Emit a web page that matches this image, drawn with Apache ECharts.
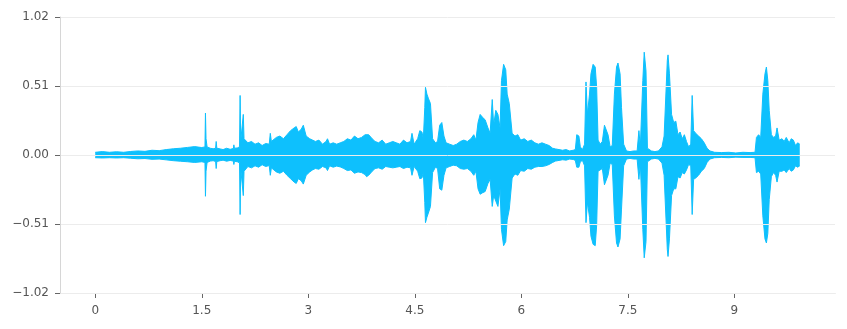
<!DOCTYPE html>
<html>
<head>
<meta charset="utf-8">
<script src="https://cdn.jsdelivr.net/npm/echarts@6/dist/echarts.min.js"></script>
<style>
html,body{margin:0;padding:0;background:#fff;}
#chart{width:847px;height:329px;}
</style>
</head>
<body>
<div id="chart"></div>
<script>
// Time (s) of each envelope sample
const times = [
0.00,0.10,0.20,0.30,0.40,0.50,0.60,0.70,0.80,0.90,1.00,1.10,1.20,1.30,1.40,1.50,
1.545,1.552,1.56,1.575,1.62,1.66,1.695,1.703,1.712,1.76,1.80,1.85,1.90,1.945,1.952,1.96,
2.00,2.032,2.040,2.048,2.075,2.085,2.095,2.15,2.20,2.25,2.30,2.35,2.40,2.45,2.465,2.48,
2.55,2.60,2.65,2.70,2.75,2.80,2.83,2.86,2.90,2.93,2.97,3.02,3.06,3.10,3.15,3.20,
3.25,3.27,3.30,3.35,3.40,3.45,3.50,3.55,3.60,3.65,3.70,3.75,3.80,3.82,3.85,3.90,
3.94,3.99,4.04,4.09,4.14,4.19,4.24,4.29,4.34,4.39,4.44,4.46,4.49,4.54,4.57,4.60,
4.62,4.64,4.65,4.67,4.69,4.72,4.75,4.79,4.82,4.85,4.88,4.91,4.94,4.99,5.04,5.09,
5.14,5.19,5.24,5.29,5.33,5.36,5.39,5.42,5.45,5.49,5.53,5.56,5.59,5.61,5.64,5.67,
5.70,5.72,5.75,5.78,5.80,5.83,5.87,5.91,5.95,5.99,6.04,6.09,6.14,6.19,6.24,6.29,
6.34,6.39,6.44,6.48,6.53,6.58,6.63,6.68,6.73,6.76,6.78,6.81,6.83,6.86,6.89,6.91,
6.93,6.96,6.98,7.01,7.04,7.06,7.08,7.11,7.14,7.17,7.19,7.22,7.25,7.28,7.31,7.34,
7.36,7.39,7.41,7.44,7.48,7.53,7.58,7.63,7.655,7.675,7.71,7.73,7.755,7.775,7.83,7.88,
7.93,7.98,8.01,8.035,8.055,8.065,8.085,8.115,8.145,8.175,8.205,8.235,8.265,8.295,8.325,8.355,
8.385,8.405,8.425,8.455,8.495,8.535,8.575,8.615,8.655,8.72,8.82,8.92,9.02,9.12,9.22,9.29,
9.31,9.34,9.37,9.40,9.43,9.45,9.47,9.49,9.52,9.55,9.58,9.60,9.63,9.67,9.70,9.73,
9.77,9.80,9.83,9.86,9.89,9.92
];
// Positive peak amplitude at each sample
const upper = [
0.020,0.025,0.020,0.024,0.020,0.026,0.030,0.027,0.035,0.032,0.040,0.046,0.050,0.056,0.062,0.055,
0.060,0.310,0.120,0.060,0.050,0.046,0.050,0.100,0.050,0.045,0.040,0.050,0.042,0.048,0.075,0.050,
0.052,0.060,0.440,0.100,0.100,0.300,0.120,0.090,0.100,0.080,0.090,0.070,0.085,0.080,0.160,0.100,
0.130,0.140,0.120,0.150,0.180,0.200,0.210,0.170,0.190,0.220,0.140,0.120,0.110,0.100,0.110,0.080,
0.100,0.120,0.080,0.090,0.080,0.090,0.100,0.120,0.110,0.140,0.120,0.130,0.150,0.160,0.150,0.120,
0.100,0.090,0.110,0.080,0.090,0.100,0.090,0.080,0.110,0.090,0.100,0.160,0.080,0.120,0.180,0.170,
0.120,0.350,0.500,0.450,0.420,0.380,0.120,0.090,0.100,0.220,0.240,0.140,0.090,0.080,0.070,0.080,
0.100,0.110,0.100,0.120,0.150,0.110,0.240,0.300,0.280,0.260,0.200,0.160,0.410,0.220,0.330,0.300,
0.200,0.550,0.670,0.630,0.450,0.380,0.160,0.140,0.150,0.110,0.120,0.100,0.110,0.090,0.080,0.090,
0.080,0.070,0.050,0.045,0.040,0.035,0.040,0.030,0.035,0.040,0.150,0.140,0.060,0.040,0.080,0.540,
0.300,0.450,0.600,0.670,0.650,0.500,0.110,0.080,0.100,0.220,0.230,0.150,0.060,0.070,0.450,0.650,
0.680,0.600,0.350,0.080,0.030,0.025,0.030,0.030,0.180,0.060,0.550,0.760,0.620,0.050,0.030,0.025,
0.030,0.060,0.140,0.150,0.700,0.740,0.600,0.300,0.240,0.250,0.150,0.170,0.120,0.150,0.100,0.060,
0.080,0.440,0.180,0.160,0.140,0.120,0.090,0.050,0.030,0.020,0.018,0.020,0.015,0.020,0.018,0.020,
0.130,0.150,0.130,0.450,0.600,0.650,0.550,0.330,0.150,0.130,0.140,0.200,0.110,0.120,0.100,0.130,
0.090,0.120,0.110,0.070,0.090,0.080
];
// Negative peak amplitude at each sample
const lower = [
-0.020,-0.022,-0.020,-0.022,-0.020,-0.024,-0.028,-0.026,-0.032,-0.030,-0.036,-0.042,-0.046,-0.050,-0.055,-0.050,
-0.055,-0.305,-0.120,-0.055,-0.045,-0.042,-0.048,-0.100,-0.048,-0.042,-0.038,-0.046,-0.040,-0.045,-0.070,-0.046,
-0.050,-0.058,-0.440,-0.100,-0.100,-0.300,-0.120,-0.085,-0.095,-0.080,-0.090,-0.072,-0.085,-0.078,-0.150,-0.095,
-0.125,-0.135,-0.120,-0.150,-0.175,-0.200,-0.210,-0.175,-0.190,-0.215,-0.150,-0.125,-0.110,-0.100,-0.105,-0.085,
-0.095,-0.115,-0.080,-0.090,-0.082,-0.088,-0.100,-0.115,-0.110,-0.135,-0.125,-0.130,-0.145,-0.160,-0.150,-0.120,
-0.100,-0.095,-0.105,-0.085,-0.090,-0.095,-0.090,-0.085,-0.100,-0.090,-0.095,-0.150,-0.085,-0.120,-0.175,-0.170,
-0.130,-0.350,-0.500,-0.460,-0.430,-0.380,-0.130,-0.090,-0.100,-0.250,-0.260,-0.150,-0.095,-0.085,-0.075,-0.080,
-0.100,-0.105,-0.100,-0.120,-0.150,-0.120,-0.250,-0.290,-0.280,-0.270,-0.210,-0.180,-0.380,-0.300,-0.340,-0.380,
-0.250,-0.550,-0.670,-0.640,-0.480,-0.400,-0.170,-0.140,-0.150,-0.115,-0.120,-0.100,-0.105,-0.090,-0.085,-0.085,
-0.080,-0.070,-0.055,-0.045,-0.040,-0.035,-0.038,-0.030,-0.033,-0.040,-0.090,-0.090,-0.050,-0.040,-0.080,-0.500,
-0.350,-0.460,-0.600,-0.660,-0.670,-0.520,-0.120,-0.110,-0.100,-0.220,-0.230,-0.150,-0.060,-0.070,-0.450,-0.650,
-0.680,-0.620,-0.400,-0.080,-0.030,-0.025,-0.030,-0.030,-0.180,-0.060,-0.550,-0.760,-0.640,-0.050,-0.030,-0.025,
-0.030,-0.060,-0.150,-0.160,-0.700,-0.750,-0.620,-0.300,-0.250,-0.250,-0.160,-0.170,-0.130,-0.140,-0.110,-0.070,
-0.080,-0.440,-0.180,-0.170,-0.150,-0.120,-0.100,-0.055,-0.030,-0.020,-0.018,-0.020,-0.016,-0.018,-0.018,-0.020,
-0.130,-0.120,-0.140,-0.450,-0.620,-0.650,-0.580,-0.330,-0.160,-0.130,-0.150,-0.200,-0.120,-0.120,-0.110,-0.130,
-0.100,-0.120,-0.110,-0.080,-0.090,-0.080
];
const xTickValues = [0, 1.5, 3, 4.5, 6, 7.5, 9];
const yTickValues = [-1.02, -0.51, 0, 0.51, 1.02];

const waveColor = '#0ec0fd';
const upperData = times.map((t, i) => [t, upper[i]]);
const lowerData = times.map((t, i) => [t, lower[i]]);

const chart = echarts.init(document.getElementById('chart'), null, {renderer: 'canvas'});
const labelFont = {fontFamily: 'DejaVu Sans', fontSize: 12, color: '#555'};
chart.setOption({
  animation: false,
  backgroundColor: '#fff',
  grid: {left: 60, right: 12, top: 17, bottom: 36, containLabel: false},
  xAxis: {
    type: 'value',
    min: -0.496,
    max: 10.416,
    axisLine: {show: true, onZero: false, lineStyle: {color: '#d6d6d6', width: 1}},
    axisTick: {show: true, length: 5, customValues: xTickValues, lineStyle: {color: '#666'}},
    axisLabel: Object.assign({customValues: xTickValues, margin: 12, formatter: v => String(v)}, labelFont),
    splitLine: {show: false}
  },
  yAxis: {
    type: 'value',
    min: yTickValues[0],
    max: yTickValues[yTickValues.length - 1],
    interval: 0.51,
    z: 3,
    axisLine: {show: true, onZero: false, lineStyle: {color: '#d6d6d6', width: 1}},
    axisTick: {show: true, length: 5, lineStyle: {color: '#666'}},
    axisLabel: Object.assign({
      margin: 11,
      formatter: v => {
        if (Math.abs(v) < 1e-9) return '0.00';
        return (v < 0 ? '\u2212' : '') + Math.abs(v).toFixed(2);
      }
    }, labelFont),
    splitLine: {show: true, lineStyle: {color: '#ececec', width: 1}}
  },
  series: [
    {
      type: 'line', data: upperData, showSymbol: false, symbol: 'none',
      lineStyle: {color: waveColor, width: 1}, areaStyle: {color: waveColor, opacity: 1},
      z: 2, silent: true
    },
    {
      type: 'line', data: lowerData, showSymbol: false, symbol: 'none',
      lineStyle: {color: waveColor, width: 1}, areaStyle: {color: waveColor, opacity: 1},
      z: 2, silent: true
    }
  ]
});
</script>
</body>
</html>
